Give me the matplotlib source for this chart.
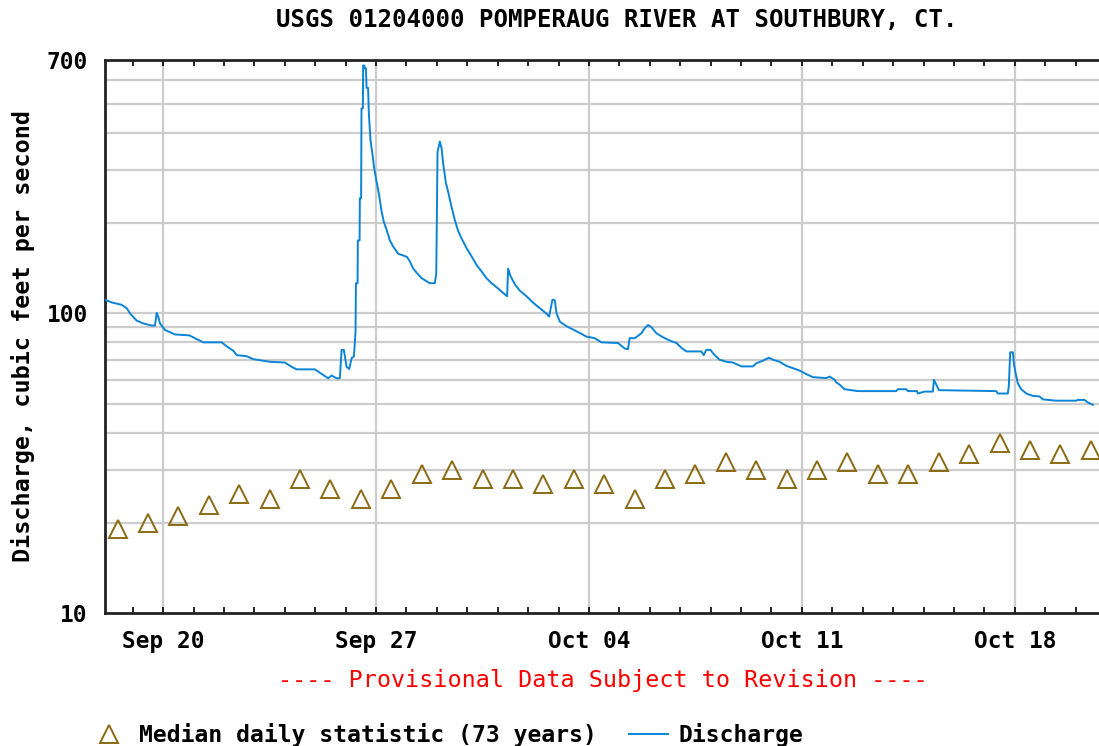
import numpy as np
import pandas as pd
import matplotlib
matplotlib.use("Agg")
import matplotlib.pyplot as plt
import matplotlib.dates as mdates
from matplotlib.ticker import FixedLocator, NullFormatter, NullLocator

# discharge, hours after Sep 18 00:00 and cfs
hours = [2.1, 7.4, 15.3, 19.2, 21.8, 27.1, 32.3, 38.9, 41.5, 42.9,
         44.1, 45.5, 49.4, 57.3, 68.6, 73.1, 79.6, 94.1, 98.1, 103.3,
         106.0, 113.9, 119.1, 132.2, 144.1, 149.3, 153.3, 167.7, 171.7, 178.2,
         180.9, 184.8, 187.4, 188.8, 190.6, 192.7, 194.8, 196.7, 198.5, 199.8,
         200.1, 201.4, 201.6, 203.0, 203.2, 204.2, 204.5, 205.6, 205.8, 206.6,
         207.2, 208.0, 208.5, 209.7, 210.3, 211.6, 213.2, 214.5, 216.4, 218.4,
         220.3, 222.1, 224.3, 226.9, 229.5, 233.4, 237.4, 240.5, 242.6, 245.3,
         248.4, 251.9, 255.8, 258.4, 262.4, 263.5, 264.5, 266.3, 267.7, 268.9,
         271.1, 272.9, 275.5, 278.1, 280.8, 283.4, 287.4, 291.3, 295.3, 299.2,
         303.1, 307.1, 312.3, 316.2, 319.4, 320.2, 322.1, 325.5, 329.4, 334.7,
         339.9, 345.2, 350.5, 352.5, 355.2, 357.0, 358.4, 361.0, 366.2, 371.4,
         376.7, 382.0, 388.5, 393.8, 406.9, 412.2, 414.8, 416.1, 420.1, 422.7,
         425.4, 428.0, 430.6, 433.3, 437.2, 442.4, 447.7, 453.0, 456.9, 460.9,
         472.7, 474.5, 476.6, 479.8, 483.2, 487.1, 492.4, 497.6, 504.3, 513.4,
         516.1, 521.3, 526.0, 529.2, 534.4, 539.7, 544.9, 550.2, 555.5, 560.7,
         571.3, 573.9, 577.9, 579.2, 581.8, 585.7, 596.2, 626.5, 627.8, 634.4,
         635.7, 642.8, 643.6, 648.8, 655.4, 656.2, 658.1, 660.1, 705.4, 706.6,
         714.5, 715.3, 716.4, 718.5, 719.3, 720.6, 722.4, 725.1, 729.1, 734.3,
         739.5, 742.2, 752.7, 768.5, 769.8, 775.1, 777.7, 781.6]
discharge = [111, 108.7, 106.7, 104, 100, 94.5, 92.5, 91, 91, 100.3,
             97.5, 92.5, 88, 85, 84.4, 82.6, 80, 80, 77.6, 75,
             72.5, 71.9, 70.3, 68.9, 68.5, 66.3, 65, 65, 63.3, 60.7,
             62, 60.7, 60.7, 75.5, 75.5, 66.3, 65.2, 70.9, 71.7, 86.6,
             126, 126, 175, 175, 242, 242, 483, 483, 671, 671,
             656, 656, 565, 565, 464, 378, 338, 305, 275, 248,
             219, 202, 190, 175, 167, 158, 156, 154, 149, 141,
             136, 131, 128, 126, 126, 136, 345, 374, 355, 317,
             272, 254, 227, 205, 188, 178, 165, 155, 145, 138,
             131, 126, 121, 117, 114, 141, 133, 125, 119, 114,
             108.5, 104, 99.7, 97.5, 111, 110.5, 100, 93.8, 90.6, 88.3,
             86, 83.6, 82.6, 80, 79.6, 76.3, 75.9, 82.6, 82.6, 84.1,
             85.8, 89.2, 91.4, 89.8, 85.8, 83.2, 81.1, 79.6, 76.7, 74.6,
             74.6, 72.5, 75.5, 75.5, 72.5, 70, 68.9, 68.5, 66.5, 66.5,
             68.1, 69.5, 71.1, 70, 68.9, 66.8, 65.6, 64.4, 62.7, 61.2,
             60.8, 61.5, 60, 58.8, 57.8, 55.8, 55, 55, 55.8, 55.8,
             55, 55, 54, 54.8, 54.8, 60, 57.8, 55.4, 55, 54,
             54, 57, 74.1, 74.1, 68.1, 63.3, 58.4, 55.8, 54, 53,
             52.8, 51.6, 51.1, 51.1, 51.4, 51.4, 50.4, 49.5]

# median daily statistic, one per day Sep 18 .. Oct 20
median_cfs = [19, 20, 21, 23, 25, 24, 28, 26, 24, 26, 29, 30, 28, 28, 27, 28, 27,
              24, 28, 29, 32, 30, 28, 30, 32, 29, 29, 32, 34, 37, 35, 34, 35]

label_dates = ["2011-09-20", "2011-09-27", "2011-10-04", "2011-10-11", "2011-10-18"]
y_labels = [10, 100, 700]

start = pd.Timestamp("2011-09-18")
t_q = start + pd.to_timedelta(hours, unit="h")
t_med = pd.date_range("2011-09-18 12:00", periods=len(median_cfs), freq="D")

mono = "DejaVu Sans Mono"
blue = "#0a84d6"
brown = "#8c6a14"

fig = plt.figure(figsize=(10.99, 7.46), dpi=100)
ax = fig.add_axes([104.5 / 1099, 133 / 746, (1106 - 104.5) / 1099, 553 / 746])

ax.plot(t_med, median_cfs, linestyle="none", marker="^", markersize=13.5,
        markerfacecolor="none", markeredgecolor=brown, markeredgewidth=1.4,
        label="Median daily statistic (73 years)", zorder=3)
ax.plot(t_q, discharge, color=blue, lw=1.4, label="Discharge", zorder=4)

ax.set_yscale("log")
ax.set_ylim(10, 700)
ax.set_xlim(start + pd.Timedelta(hours=1.7), pd.Timestamp("2011-10-21"))

# grid lines at every integer multiple
grid_vals = list(range(20, 100, 10)) + list(range(100, 700, 100))
for v in grid_vals:
    ax.axhline(v, color="#cccccc", lw=1.6, zorder=1)
for d in label_dates:
    ax.axvline(pd.Timestamp(d), color="#cccccc", lw=1.6, zorder=1)

ax.yaxis.set_major_locator(FixedLocator(y_labels))
ax.yaxis.set_minor_locator(NullLocator())
ax.yaxis.set_minor_formatter(NullFormatter())
ax.set_yticklabels([str(v) for v in y_labels])

ax.xaxis.set_major_locator(FixedLocator(mdates.date2num(pd.to_datetime(label_dates))))
ax.xaxis.set_major_formatter(mdates.DateFormatter("%b %d"))
ax.xaxis.set_minor_locator(mdates.DayLocator())

ax.tick_params(axis="x", which="both", direction="in", length=4, width=1.2,
               top=True, pad=12, labelsize=16.4)
ax.tick_params(axis="y", which="both", length=0, pad=12, labelsize=16.4)
for lab in ax.get_xticklabels() + ax.get_yticklabels():
    lab.set_fontfamily(mono)
    lab.set_fontweight("bold")

for s in ["left", "bottom", "top"]:
    ax.spines[s].set_linewidth(2)
    ax.spines[s].set_color("#222222")
ax.spines["right"].set_visible(False)

ax.set_ylabel("Discharge, cubic feet per second", fontsize=16.8, family=mono,
              fontweight="bold")
ax.yaxis.set_label_coords(-0.069, 0.5)

fig.text(617 / 1099, 1 - 20 / 746, "USGS 01204000 POMPERAUG RIVER AT SOUTHBURY, CT.",
         ha="center", va="center", fontsize=17.3, family=mono, fontweight="bold")
fig.text(603 / 1099, 1 - 680 / 746, "---- Provisional Data Subject to Revision ----",
         ha="center", va="center", fontsize=16.8, family=mono, color="red")

leg = fig.legend(loc="center left", bbox_to_anchor=(78 / 1099, 1 - 735 / 746), ncol=2,
                 frameon=False, prop={"family": mono, "weight": "bold", "size": 16.6},
                 handlelength=1.7, handletextpad=0.45, columnspacing=1.4, borderpad=0)

fig.savefig("out.png", dpi=100)
